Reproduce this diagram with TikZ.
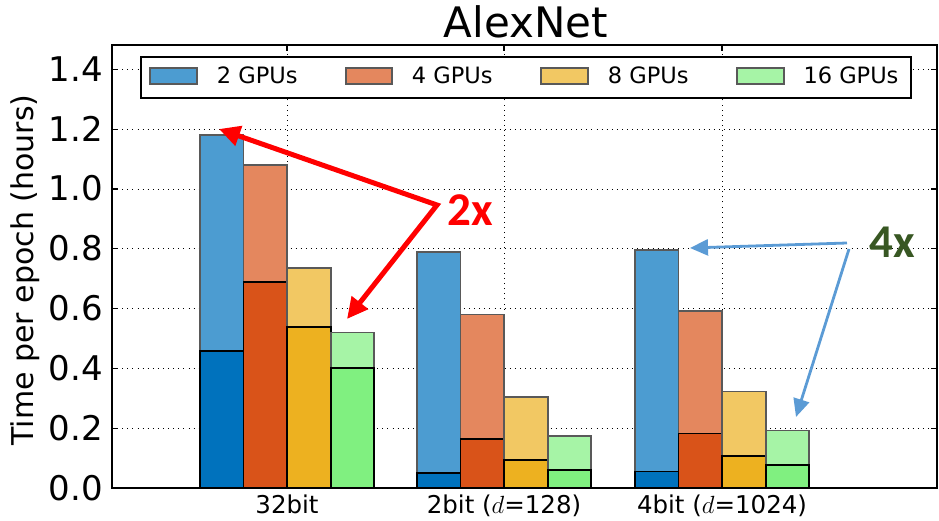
\documentclass[tikz,border=0pt]{standalone}
\usepackage{fontspec}
\setmainfont{DejaVu Sans}
\newfontfamily\notefont{Carlito}
\usetikzlibrary{arrows.meta}

\definecolor{gpuA}{HTML}{0072BD}
\definecolor{gpuB}{HTML}{D95319}
\definecolor{gpuC}{HTML}{EDB120}
\definecolor{gpuD}{HTML}{80F080}
\definecolor{noteblue}{HTML}{5B9BD5}
\definecolor{notegreen}{HTML}{385723}

\tikzset{
  gridline/.style={black, line width=0.9pt, dash pattern=on 0.9pt off 4.2pt},
  axisline/.style={black, line width=1.3pt},
  upperbar/.style={draw=black!65, line width=1.8pt},
  lowerbar/.style={draw=black, line width=1.8pt},
  ticklabel/.style={anchor=base east, inner sep=0pt, yshift=-12pt, font=\fontsize{34}{40}\selectfont},
  catlabel/.style={anchor=base, inner sep=0pt, font=\fontsize{24.5}{29}\selectfont},
  legendlabel/.style={anchor=base west, inner sep=0pt, font=\fontsize{22.5}{27}\selectfont},
  notelabel/.style={anchor=base west, inner sep=0pt, font=\notefont\bfseries\fontsize{47}{56}\selectfont},
  redarrow/.style={red, line width=5pt, line join=miter,
    {Triangle[length=21pt,width=20pt]}-{Triangle[length=21pt,width=20pt]}},
  bluearrow/.style={noteblue, line width=2.8pt, -{Triangle[length=18pt,width=16pt]}}
}

\begin{document}
\begin{tikzpicture}[x=1pt,y=1pt]
  \useasboundingbox (0,0) rectangle (939,520);

  \begin{scope}[yshift=32pt,y=299pt]
    % grid
    \foreach \v in {0.2,0.4,0.6,0.8,1.0,1.2,1.4}
      \draw[gridline] (112,\v) -- (937,\v);
    \foreach \c in {287,504,722}
      \draw[gridline] (\c,0) -- (\c,1.4816);

    % 32bit
    \draw[upperbar,fill=gpuA!70!white] (199.8,0) rectangle (243.4,1.18);
    \draw[lowerbar,fill=gpuA] (199.8,0) rectangle (243.4,0.457);
    \draw[upperbar,fill=gpuB!70!white] (243.4,0) rectangle (287,1.08);
    \draw[lowerbar,fill=gpuB] (243.4,0) rectangle (287,0.69);
    \draw[upperbar,fill=gpuC!70!white] (287,0) rectangle (330.6,0.735);
    \draw[lowerbar,fill=gpuC] (287,0) rectangle (330.6,0.538);
    \draw[upperbar,fill=gpuD!70!white] (330.6,0) rectangle (374.2,0.52);
    \draw[lowerbar,fill=gpuD] (330.6,0) rectangle (374.2,0.401);

    % 2bit
    \draw[upperbar,fill=gpuA!70!white] (416.8,0) rectangle (460.4,0.79);
    \draw[lowerbar,fill=gpuA] (416.8,0) rectangle (460.4,0.049);
    \draw[upperbar,fill=gpuB!70!white] (460.4,0) rectangle (504,0.58);
    \draw[lowerbar,fill=gpuB] (460.4,0) rectangle (504,0.163);
    \draw[upperbar,fill=gpuC!70!white] (504,0) rectangle (547.6,0.305);
    \draw[lowerbar,fill=gpuC] (504,0) rectangle (547.6,0.094);
    \draw[upperbar,fill=gpuD!70!white] (547.6,0) rectangle (591.2,0.174);
    \draw[lowerbar,fill=gpuD] (547.6,0) rectangle (591.2,0.06);

    % 4bit
    \draw[upperbar,fill=gpuA!70!white] (634.8,0) rectangle (678.4,0.795);
    \draw[lowerbar,fill=gpuA] (634.8,0) rectangle (678.4,0.055);
    \draw[upperbar,fill=gpuB!70!white] (678.4,0) rectangle (722,0.592);
    \draw[lowerbar,fill=gpuB] (678.4,0) rectangle (722,0.182);
    \draw[upperbar,fill=gpuC!70!white] (722,0) rectangle (765.6,0.323);
    \draw[lowerbar,fill=gpuC] (722,0) rectangle (765.6,0.107);
    \draw[upperbar,fill=gpuD!70!white] (765.6,0) rectangle (809.2,0.192);
    \draw[lowerbar,fill=gpuD] (765.6,0) rectangle (809.2,0.077);

    % ticks
    \foreach \v in {0.2,0.4,0.6,0.8,1.0,1.2,1.4}{
      \draw[axisline] (112,\v) -- ++(6,0);
      \draw[axisline] (937,\v) -- ++(-6,0);
    }
    \foreach \c in {287,504,722}{
      \draw[axisline] (\c,0) -- ++(0,6pt);
      \draw[axisline] (\c,1.4816) -- ++(0,-6pt);
    }

    % frame
    \draw[axisline] (112,0) rectangle (937,1.4816);

    \foreach \v/\t [count=\i] in {0/0.0,0.2/0.2,0.4/0.4,0.6/0.6,0.8/0.8,1.0/1.0,1.2/1.2,1.4/1.4}
      \node[ticklabel] (yt\i) at (103,\v) {\t};
  \end{scope}

  \node[catlabel] (cat1) at (287,7) {32bit};
  \node[catlabel] (cat2) at (504,7) {2bit ($d$=128)};
  \node[catlabel] (cat3) at (722,7) {4bit ($d$=1024)};

  \node[anchor=base, inner sep=0pt, font=\fontsize{42}{50}\selectfont] (title) at (526,482) {AlexNet};
  \node[anchor=base, inner sep=0pt, rotate=90, font=\fontsize{30}{36}\selectfont] (ylab) at (33,250) {Time per epoch (hours)};

  % legend
  \draw[line width=1.3pt, fill=white] (141,422) rectangle (911,463);
  \draw[upperbar,fill=gpuA!70!white] (150,436) rectangle (196.7,452);
  \draw[upperbar,fill=gpuB!70!white] (345.7,436) rectangle (392.3,452);
  \draw[upperbar,fill=gpuC!70!white] (541,436) rectangle (588.3,452);
  \draw[upperbar,fill=gpuD!70!white] (736.7,436) rectangle (784,452);
  \node[legendlabel] (leg1) at (216.7,436) {2 GPUs};
  \node[legendlabel] (leg2) at (411.7,436) {4 GPUs};
  \node[legendlabel] (leg3) at (607.7,436) {8 GPUs};
  \node[legendlabel] (leg4) at (803.3,436) {16 GPUs};

  % notes
  \node[notelabel, red] (twox) at (447,294) {2x};
  \node[notelabel, notegreen] (fourx) at (869,262) {4x};

  \coordinate (redfork) at (437,315);
  \coordinate (redtipA) at (219,391);
  \coordinate (redtipB) at (347,201);
  \draw[redarrow] (redtipA) -- (redfork) -- (redtipB);

  \coordinate (bluestartA) at (847,277);
  \coordinate (bluetipA) at (690,272);
  \coordinate (bluestartB) at (849,271);
  \coordinate (bluetipB) at (796,103);
  \draw[bluearrow] (bluestartA) -- (bluetipA);
  \draw[bluearrow] (bluestartB) -- (bluetipB);

\end{tikzpicture}
\end{document}
